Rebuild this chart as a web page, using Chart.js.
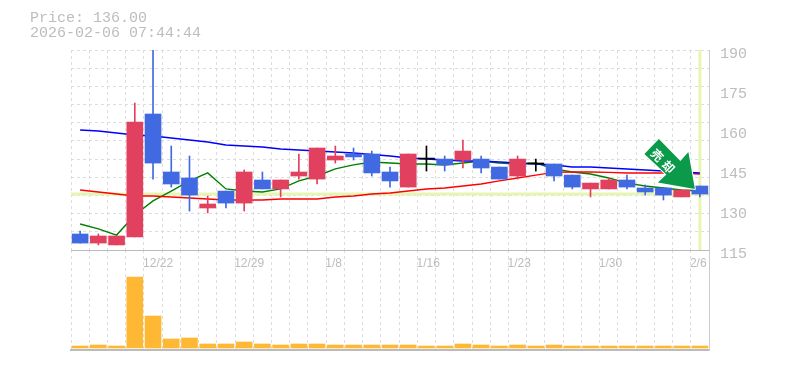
<!DOCTYPE html>
<html>
<head>
<meta charset="utf-8">
<script src="https://cdn.jsdelivr.net/npm/chart.js@4"></script>
<style>
  body { margin: 0; background: #fff; }
  canvas { position: absolute; left: 0; top: 0; }
</style>
</head>
<body>
<canvas id="volumeChart" width="785" height="370"></canvas>
<canvas id="priceChart" width="785" height="370"></canvas>
<script>
const dates = ['12/16','12/17','12/18','12/19','12/22','12/23','12/24','12/25','12/26','12/29',
  '12/30','1/5','1/6','1/7','1/8','1/9','1/13','1/14','1/15','1/16',
  '1/19','1/20','1/21','1/22','1/23','1/26','1/27','1/28','1/29','1/30',
  '2/2','2/3','2/4','2/5','2/6'];

const opens = [121,117.6,116.9,119.9,166,144.25,142,130.75,137.1,132.6,
  141.25,137.9,142.75,141.6,148.75,151,151,144.25,138.6,149.1,
  149.1,148.75,149.1,146.1,142.75,147.25,147.25,143.1,137.9,137.9,
  141.25,138.25,138.25,134.9,139];
const closes = [117.6,120.25,120.25,163,147.6,139.75,135.6,132.25,132.6,144.25,
  137.9,141.25,144.25,153.25,150.25,149.9,143.9,140.9,151,149.1,
  146.9,152.1,145.75,141.6,149.1,147.25,142.75,138.6,140.1,141.25,
  138.6,136.75,135.6,137.5,136];
const highs = [122.1,121,120.25,170.1,190,154,150.25,135.25,137.1,145,
  144.25,141.25,151,153.25,154,153.25,152.1,146.1,151,154,
  150.25,156.25,150.25,146.1,150.25,149.1,147.25,143.1,140.1,142,
  143.1,139.4,138.25,137.5,139];
const lows = [117.6,116.9,116.9,119.9,141.6,138.6,129.6,128.9,130.75,129.6,
  137.9,134.9,141.6,139.75,147.6,148.75,142.75,138.6,138.6,144.6,
  144.6,145.75,143.9,141.6,141.6,144.6,140.9,137.9,134.9,137.9,
  137.9,135.6,133.75,134.9,134.9];

const maLong = [160,159.6,158.9,158.1,157.75,157,156.25,155.5,154.4,154,
  153.6,152.9,152.5,152.1,151.75,151.4,150.8,150.25,149.5,149.1,
  148.75,148.4,148.4,148,147.6,147.25,146.9,146.1,146.1,145.75,
  145.4,145,144.6,144.25,143.9];
const maMid = [137.5,136.75,136,135.25,135.25,134.9,134.5,134.1,133.75,133.75,
  133.75,134.1,134.1,134.1,134.9,135.25,136,136.4,137.1,137.9,
  138.25,139,139.75,140.9,142,143.1,144.1,144.25,144.25,144.1,
  143.9,143.9,143.9,143.9,143.5];
const maShort = [124.75,122.9,120.6,128.1,133.4,137.1,140.9,143.9,137.9,137.1,
  136.75,137.9,140.9,142.75,145.4,146.9,148,147.6,147.25,147.25,
  146.9,147.6,148.4,147.6,147.25,147.6,145.4,144.25,143.5,142,
  140.1,139,138.25,137.5,137.1];

const volumes = [2,3,2,71,32,9,10,4,4,6,4,3,4,4,3,3,3,3,3,2,
  2,4,3,2,3,2,3,2,2,2,2,2,2,2,2];

const lastPrice = 136.00;
const priceTicks = { min: 115, max: 190, step: 15 };
const headerLines = ['Price: 136.00', '2026-02-06 07:44:44'];
const badgeText = ['売', '却'];

const UP = '#e2405f', DOWN = '#4169e1', FLAT = '#000000';
const candleColors = closes.map((c, i) => c > opens[i] ? UP : (c < opens[i] ? DOWN : FLAT));
const labelGray = '#bdbdbd';
const gridStyle = { color: '#dddddd', lineWidth: 1, tickLength: 0 };

// current price marker, sits behind the lines and candles
const priceMarker = {
  id: 'priceMarker',
  beforeDatasetsDraw(chart) {
    const { ctx, chartArea: a, scales } = chart;
    const y = scales.y.getPixelForValue(lastPrice);
    const x = scales.x.getPixelForValue(dates.length - 1);
    ctx.save();
    ctx.strokeStyle = '#e7f5b2';
    ctx.lineWidth = 3;
    ctx.beginPath();
    ctx.moveTo(a.left, y);
    ctx.lineTo(a.right, y);
    ctx.moveTo(x, a.top);
    ctx.lineTo(x, a.bottom);
    ctx.stroke();
    ctx.restore();
  }
};

// green arrow pointing at the last candle
const arrowBadge = {
  id: 'arrowBadge',
  afterDatasetsDraw(chart) {
    const { ctx, scales } = chart;
    const tipX = scales.x.getPixelForValue(dates.length - 1) - 5;
    const tipY = scales.y.getPixelForValue(lastPrice) - 5;
    const shape = [[-50.5,-35],[-36,-50],[-14.5,-28],[-6.5,-37],[0,0],[-37,-6.5],[-28.5,-14.5]];
    ctx.save();
    ctx.beginPath();
    shape.forEach(([dx, dy], i) => i ? ctx.lineTo(tipX + dx, tipY + dy) : ctx.moveTo(tipX + dx, tipY + dy));
    ctx.closePath();
    ctx.fillStyle = '#0a9a4a';
    ctx.strokeStyle = '#ffffff';
    ctx.lineWidth = 2;
    ctx.lineJoin = 'round';
    ctx.stroke();
    ctx.fill();
    ctx.fillStyle = '#ffffff';
    ctx.font = 'bold 12px "Noto Sans CJK JP"';
    ctx.textAlign = 'center';
    ctx.textBaseline = 'middle';
    ctx.translate(tipX - 32, tipY - 28);
    ctx.rotate(Math.PI / 4);
    ctx.fillText(badgeText[0], -8, 0);
    ctx.fillText(badgeText[1], 8, 0);
    ctx.restore();
  }
};

new Chart(document.getElementById('priceChart').getContext('2d'), {
  data: {
    labels: dates,
    datasets: [
      { type: 'bar', data: opens.map((o, i) => [o, closes[i]]), backgroundColor: candleColors,
        barThickness: 16, minBarLength: 1, grouped: false, order: 1 },
      { type: 'bar', data: lows.map((l, i) => [l, highs[i]]), backgroundColor: candleColors,
        barThickness: 1, grouped: false, order: 2 },
      { type: 'line', data: maLong, borderColor: '#0000ff', borderWidth: 1.4, pointRadius: 0, tension: 0, order: 3 },
      { type: 'line', data: maMid, borderColor: '#ff0000', borderWidth: 1.4, pointRadius: 0, tension: 0, order: 4 },
      { type: 'line', data: maShort, borderColor: '#008000', borderWidth: 1.4, pointRadius: 0, tension: 0, order: 5 }
    ]
  },
  options: {
    responsive: false,
    animation: false,
    devicePixelRatio: 1,
    layout: { padding: { left: 30, top: 10, right: 0, bottom: 0 } },
    plugins: {
      legend: { display: false },
      tooltip: { enabled: false },
      title: {
        display: true,
        text: headerLines,
        align: 'start',
        color: labelGray,
        font: { family: '"Liberation Mono"', size: 15, weight: 'normal', lineHeight: 1.04 },
        padding: { top: 0, bottom: 8.8 }
      }
    },
    scales: {
      x: {
        offset: true,
        grid: { ...gridStyle, offset: true },
        border: { color: '#bbbbbb', width: 1, dash: [3, 3] },
        ticks: {
          autoSkip: false,
          maxRotation: 0,
          padding: 6,
          align: 'start',
          labelOffset: -10,
          color: labelGray,
          font: { family: '"Liberation Sans"', size: 12 },
          callback: function(v, i) { return i % 5 === 4 ? dates[i] : ''; }
        },
        afterFit: scale => { scale.height = 120; }
      },
      y: {
        position: 'right',
        min: priceTicks.min,
        max: priceTicks.max,
        grid: { display: false },
        border: { color: '#cccccc', width: 1 },
        ticks: {
          stepSize: priceTicks.step,
          padding: 3,
          labelOffset: 4,
          color: labelGray,
          font: { family: '"Liberation Mono"', size: 15 }
        },
        afterFit: scale => { scale.width = 76; }
      },
      // horizontal dotted grid does not line up with the price labels
      yGrid: {
        position: 'left',
        min: priceTicks.min,
        max: priceTicks.max,
        grid: gridStyle,
        border: { display: false, dash: [3, 3] },
        ticks: { count: 12, display: false },
        afterFit: scale => { scale.width = 41; }
      }
    }
  },
  plugins: [priceMarker, arrowBadge]
});

new Chart(document.getElementById('volumeChart').getContext('2d'), {
  type: 'bar',
  data: {
    labels: dates,
    datasets: [{ data: volumes, backgroundColor: '#ffb833', barThickness: 16 }]
  },
  options: {
    responsive: false,
    animation: false,
    devicePixelRatio: 1,
    layout: { padding: { left: 71, top: 250, right: 76, bottom: 0 } },
    plugins: { legend: { display: false }, tooltip: { enabled: false } },
    scales: {
      x: {
        offset: true,
        grid: { ...gridStyle, offset: true },
        border: { color: '#bbbbbb', width: 2, dash: [3, 3] },
        ticks: { display: false },
        afterFit: scale => { scale.height = 20; }
      },
      y: {
        position: 'right',
        min: -2,
        max: 98,
        grid: { display: false },
        border: { color: '#cccccc', width: 1 },
        ticks: { display: false },
        afterFit: scale => { scale.width = 0; }
      }
    }
  }
});
</script>
</body>
</html>
